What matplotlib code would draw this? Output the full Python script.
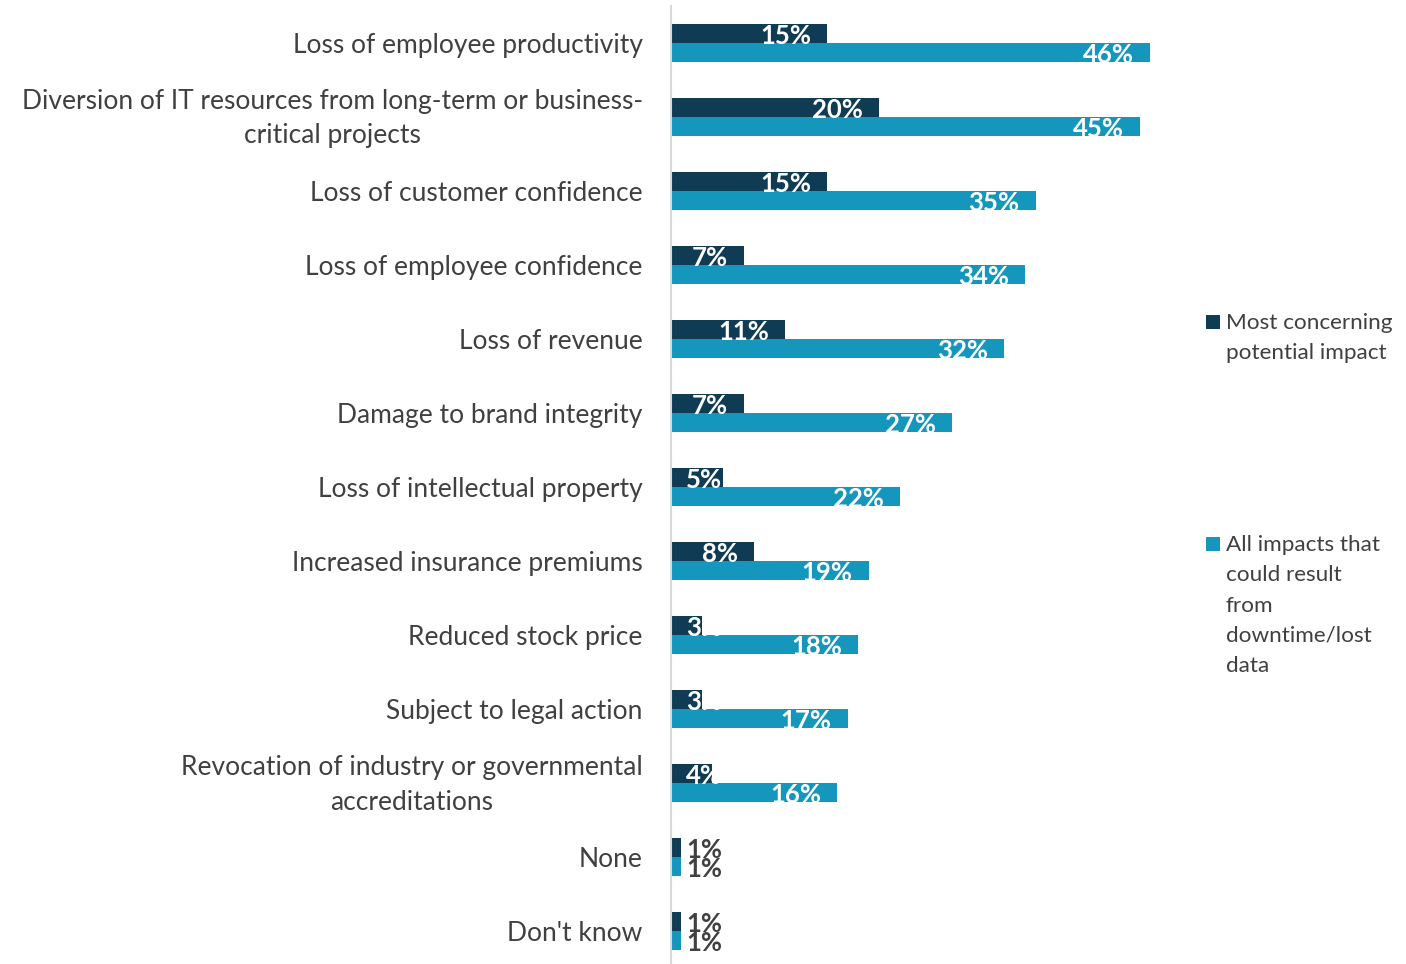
import matplotlib
matplotlib.use('Agg')
import matplotlib.pyplot as plt
from matplotlib.patches import Rectangle
from matplotlib.transforms import ScaledTranslation

plt.rcParams['font.family'] = ['Lato', 'DejaVu Sans']

# categories, top to bottom
categories = [
    'Loss of employee productivity',
    'Diversion of IT resources from long-term or business-\ncritical projects',
    'Loss of customer confidence',
    'Loss of employee confidence',
    'Loss of revenue',
    'Damage to brand integrity',
    'Loss of intellectual property',
    'Increased insurance premiums',
    'Reduced stock price',
    'Subject to legal action',
    'Revocation of industry or governmental\naccreditations',
    'None',
    "Don't know",
]
most_concerning = [15, 20, 15, 7, 11, 7, 5, 8, 3, 3, 4, 1, 1]
all_impacts = [46, 45, 35, 34, 32, 27, 22, 19, 18, 17, 16, 1, 1]

series_names = [['Most concerning', 'potential impact'],
                ['All impacts that', 'could result', 'from',
                 'downtime/lost', 'data']]

dark = '#0f3b54'
light = '#1596bd'
text_grey = '#404040'

W, H = 1406, 964
fig = plt.figure(figsize=(W / 100, H / 100), dpi=100)

# axes geometry in pixels
px_per_pct = 10.43
x0 = 670.5
xmax = 49
ax_w = xmax * px_per_pct
ax_top, ax_bot = 6, 968
ax = fig.add_axes([x0 / W, (H - ax_bot) / H, ax_w / W, (ax_bot - ax_top) / H])

n = len(categories)
h = 19 / 74
ys = list(range(n))

ax.barh([y - h / 2 for y in ys], most_concerning, height=h, color=dark)
ax.barh([y + h / 2 for y in ys], all_impacts, height=h, color=light)

ax.set_xlim(0, xmax)
ax.set_ylim(n - 0.5, -0.5)

ax.set_yticks(ys)
ax.set_yticklabels(categories, fontsize=19, color=text_grey,
                   multialignment='center', linespacing=1.5)
ax.tick_params(axis='y', length=0, pad=20)
# two-line labels sit a little high in the original
for lab in ax.get_yticklabels():
    if '\n' in lab.get_text():
        lab.set_transform(lab.get_transform() +
                          ScaledTranslation(0, 0.06, fig.dpi_scale_trans))
ax.set_xticks([])
for s in ['top', 'right', 'bottom']:
    ax.spines[s].set_visible(False)
ax.spines['left'].set_color('#d9d9d9')
ax.spines['left'].set_linewidth(1.5)

# data labels
pad = 16 / px_per_pct
min_left = 15.5 / px_per_pct
off = 1 / 74
for vals, base in [(most_concerning, 0.0), (all_impacts, h)]:
    for y, v in zip(ys, vals):
        yb = y + base + off
        if v <= 1:
            ax.text(min_left, yb, f'{v}%', ha='left', va='baseline',
                    fontsize=18.5, fontweight='bold', color=text_grey)
        elif v < 6:
            ax.text(min_left, yb, f'{v}%', ha='left', va='baseline',
                    fontsize=18.5, fontweight='bold', color='white')
        else:
            ax.text(v - pad, yb, f'{v}%', ha='right', va='baseline',
                    fontsize=18.5, fontweight='bold', color='white')

# legend drawn on the right
leg_items = [(dark, series_names[0], 329), (light, series_names[1], 551)]
line_pitch = 30.3
for col, lines, base in leg_items:
    fig.add_artist(Rectangle((1206 / W, 1 - base / H), 14 / W, 14 / H,
                             transform=fig.transFigure, color=col, lw=0))
    for k, line in enumerate(lines):
        fig.text(1226 / W, 1 - (base + k * line_pitch) / H, line,
                 ha='left', va='baseline', fontsize=16.2, color=text_grey)

fig.savefig('out.png', dpi=100)
